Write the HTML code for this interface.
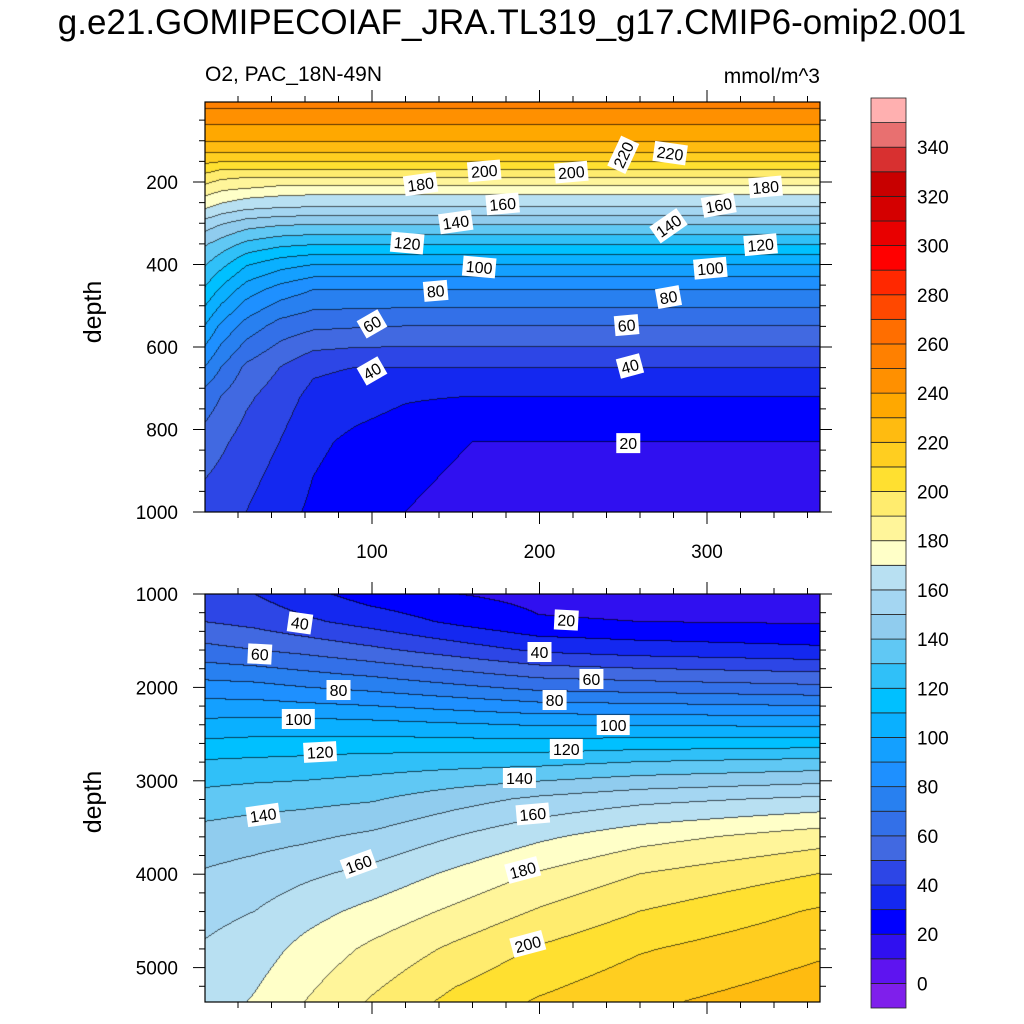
<!DOCTYPE html>
<html><head><meta charset="utf-8"><style>
body{margin:0;background:#fff;width:1024px;height:1024px;overflow:hidden;position:relative;font-family:"Liberation Sans",sans-serif}
canvas{position:absolute}
.t{position:absolute;color:#000;white-space:nowrap}
</style></head><body>
<div class="t" style="left:0;width:1024px;text-align:center;top:3px;font-size:35px">g.e21.GOMIPECOIAF_JRA.TL319_g17.CMIP6-omip2.001</div>
<div class="t" style="left:205px;top:63px;font-size:21px">O2, PAC_18N-49N</div>
<div class="t" style="left:650px;width:170px;text-align:right;top:65px;font-size:21px">mmol/m^3</div>
<canvas id="c1" width="615" height="410" style="left:205px;top:102px"></canvas>
<canvas id="c2" width="615" height="408" style="left:205px;top:594px"></canvas>
<svg id="ov" width="1024" height="1024" style="position:absolute;left:0;top:0"></svg>
<script>
// ---- data ----
const levelColors=["#7F1FEB","#5E14F0","#3010F0","#0000FF","#1428F0","#2D46E6","#4169E1","#3370E8","#2880F0","#1E90FF","#14A0FF","#0AB0FF","#00C0FF","#30C0F8","#60C8F4","#90CCEE","#A4D6F2","#B8E0F2","#FFFFC8","#FFF59A","#FFEC6E","#FFE030","#FFCE20","#FFBB10","#FFA800","#FF9000","#FF8000","#FF6E00","#FF4800","#FF2800","#FF0000","#E80000","#D40000","#C80000","#D83030","#E87070","#FFB0B0"];
const cbLabels=[0,20,40,60,80,100,120,140,160,180,200,220,240,260,280,300,320,340];
const topDays=[0,10,25,45,65,90,120,160,366];
const topDepths=[5,40,62,103,130,152,171,190,210,232,261,304,353,401,462,550,650,720,830,1000];
const topCol0=[251,249,240,230,220,212,204,196,189,181,172,155,141,131,119,100,80,66,56,45];
const topCol10=[251,249,240,230,220,210,200,192,184,177,167,150,135,123,108,88,70,60,52,43];
const topCol25=[251,249,240,230,220,210,200,190,183,173,163,144,127,111,95,76,58,52,46,40];
const topCol45=[251,249,240,230,220,210,200,190,180,171,161,141,122,104,86,66,50,45,40,34];
const topCol65=[251,249,240,230,220,210,200,190,180,170,160,140,120,100,80,62,42,37,32,28];
const topCol90=[251,249,240,230,220,210,200,190,180,170,160,140,120,100,80,61,40,34,28,24];
const topCol120=[251,249,240,230,220,210,200,190,180,170,160,140,120,100,80,60,40,31,25,20];
const topCol160=[251,249,240,230,220,210,200,190,180,170,160,140,120,100,80,60,40,30,20,15];
const topCol366=[251,249,240,230,220,210,200,190,180,170,160,140,120,100,80,60,40,30,20,15];
const botDays=[0,30,60,100,150,200,260,366];
const botDepths=[1000,1300,1600,2000,2400,2800,3200,3600,4000,4400,4800,5365];
const botCol0=[45,50,63,84,103,121,134,144,151,157,161,164];
const botCol30=[40,47,60,83,104,122,136,146,154,160,165,171];
const botCol60=[33,42,57,80,104,123,137,148,158,166,173,180];
const botCol100=[25,36,52,77,103,125,139,152,163,173,182,191];
const botCol150=[20,28,45,72,101,126,146,160,172,182,192,203];
const botCol200=[17,21,38,67,99,127,152,168,181,191,201,211];
const botCol260=[16,20,35,65,99,130,157,176,190,200,209,218];
const botCol366=[15,19,32,62,98,133,162,185,200,211,218,226];
const topLabelVals=[200,200,220,220,180,180,160,160,140,140,120,120,100,100,80,80,60,60,40,40,20];
const topLabelDays=[167,219,250,278,129,335,178,307,150,277,121,332,164,302,138,277,100,252,100,254,253];
const topLabelDepths=[173,176,134,130,205,212,253,256,297,306,348,352,406,409,464,479,544,547,658,646,833];
const topLabelRot=[-5,-5,-65,8,-8,-5,-5,-10,-8,-35,5,-5,5,-5,-5,-10,-30,-5,-30,-15,0];
const botLabelVals=[40,60,80,100,120,140,160,20,40,60,80,100,120,140,160,180,200];
const botLabelDays=[57,33,80,56,69,35,92,216,200,231,209,244,216,188,196,190,193];
const botLabelDepths=[1310,1642,2028,2338,2692,3366,3891,1278,1621,1910,2135,2403,2660,2970,3355,3955,4747];
const botLabelRot=[8,3,0,0,-3,-8,-20,3,0,0,0,0,0,0,-5,-15,-15];
// ---- scales ----
const xS=d=>204.5+d*1.675, xInv=X=>(X-204.5)/1.675;
const yTop=z=>99.5+z*0.4125, yTopInv=Y=>(Y-99.5)/0.4125;
const yBot=z=>594+(z-1000)*0.0934, yBotInv=Y=>1000+(Y-594)/0.0934;
function seg(arr,v){let i=0;while(i<arr.length-2&&v>arr[i+1])i++;let t=(v-arr[i])/(arr[i+1]-arr[i]);return [i,Math.max(0,Math.min(1,t))];}
function field(days,depths,cols,d,z){const [i,tx]=seg(days,d),[j,tz]=seg(depths,z);
 const a=cols[i][j]*(1-tz)+cols[i][j+1]*tz,b=cols[i+1][j]*(1-tz)+cols[i+1][j+1]*tz;return a*(1-tx)+b*tx;}
function hex(h){return [parseInt(h.substr(1,2),16),parseInt(h.substr(3,2),16),parseInt(h.substr(5,2),16)];}
const rgb=levelColors.map(hex);
function lvl(v){return Math.max(0,Math.min(36,Math.floor((v+10)/10)));}
function draw(id,L,T,days,depths,cols,yInv){const c=document.getElementById(id),ctx=c.getContext('2d'),W=c.width,H=c.height;
 const img=ctx.createImageData(W,H),idx=new Int16Array(W*H);
 for(let j=0;j<H;j++){const z=yInv(T+j+0.5);for(let i=0;i<W;i++){idx[j*W+i]=lvl(field(days,depths,cols,xInv(L+i+0.5),z));}}
 for(let j=0;j<H;j++)for(let i=0;i<W;i++){const k=j*W+i,l=idx[k];let col=rgb[l];
  const edge=(i<W-1&&idx[k+1]!==l)||(j<H-1&&idx[k+W]!==l);
  const p=k*4;if(edge){img.data[p]=col[0]*0.35;img.data[p+1]=col[1]*0.35;img.data[p+2]=col[2]*0.35;}else{img.data[p]=col[0];img.data[p+1]=col[1];img.data[p+2]=col[2];}img.data[p+3]=255;}
 ctx.putImageData(img,0,0);}
draw('c1',205,102,topDays,topDepths,[topCol0,topCol10,topCol25,topCol45,topCol65,topCol90,topCol120,topCol160,topCol366],yTopInv);
draw('c2',205,594,botDays,botDepths,[botCol0,botCol30,botCol60,botCol100,botCol150,botCol200,botCol260,botCol366],yBotInv);
// ---- overlay ----
const ov=document.getElementById('ov'),NS='http://www.w3.org/2000/svg';
function mk(tag,attrs){const e=document.createElementNS(NS,tag);for(const k in attrs)e.setAttribute(k,attrs[k]);ov.appendChild(e);return e;}
function labels(vals,days,deps,rots,yf,nm){for(let i=0;i<vals.length;i++){const x=xS(days[i]),y=yf(deps[i]);
 const g=mk('g',{transform:`translate(${x},${y}) rotate(${rots[i]})`});
 
 
 const w=String(vals[i]).length*9+6;
 const r=document.createElementNS(NS,'rect');r.setAttribute('x',-w/2);r.setAttribute('y',-10);r.setAttribute('width',w);r.setAttribute('height',20);r.setAttribute('fill','#fff');g.appendChild(r);
 const t=document.createElementNS(NS,'text');t.setAttribute('x',0);t.setAttribute('y',6);t.setAttribute('text-anchor','middle');t.setAttribute('font-size','16');t.setAttribute('font-family','Liberation Sans');t.textContent=vals[i];g.appendChild(t);}}
labels(topLabelVals,topLabelDays,topLabelDepths,topLabelRot,yTop,'upper-contour-label');
labels(botLabelVals,botLabelDays,botLabelDepths,botLabelRot,yBot,'lower-contour-label');
function frame(t,b,nm){const r=mk('rect',{x:205,y:t,width:615,height:b-t,fill:'none',stroke:'#000','stroke-width':1.2});
 
 }
frame(102,512,'upper-plot-frame');frame(594,1002,'lower-plot-frame');
function xticks(t,b){for(let d=20;d<=360;d+=20){const X=xS(d),maj=d%100===0,len=maj?12:6;
 mk('line',{x1:X,x2:X,y1:t,y2:t-len,stroke:'#000','stroke-width':1});mk('line',{x1:X,x2:X,y1:b,y2:b+len,stroke:'#000','stroke-width':1});}}
xticks(102,512);xticks(594,1002);
for(let z=50;z<=1000;z+=50){const Y=yTop(z),maj=z%200===0,len=maj?12:6;if(Y<102)continue;
 mk('line',{x1:205,x2:205-len,y1:Y,y2:Y,stroke:'#000'});mk('line',{x1:820,x2:820+len,y1:Y,y2:Y,stroke:'#000'});}
for(let z=1000;z<=5300;z+=200){const Y=yBot(z),maj=z%1000===0,len=maj?12:6;
 mk('line',{x1:205,x2:205-len,y1:Y,y2:Y,stroke:'#000'});mk('line',{x1:820,x2:820+len,y1:Y,y2:Y,stroke:'#000'});}
function txt(x,y,s,anchor,size,nm,rot){const t=mk('text',{x:x,y:y,'text-anchor':anchor,'font-size':size,'font-family':'Liberation Sans'});
 if(rot)t.setAttribute('transform',`rotate(${rot} ${x} ${y})`);
 
 
 t.textContent=s;}
[200,400,600,800,1000].forEach(z=>txt(178,yTop(z)+7,z,'end',19,'upper-y-tick-label'));
[1000,2000,3000,4000,5000].forEach(z=>txt(178,yBot(z)+7,z,'end',19,'lower-y-tick-label'));
[100,200,300].forEach(d=>txt(xS(d),558,d,'middle',19,'x-tick-label'));
txt(101,312,'depth','middle',25,'upper-y-axis-title',-90);
txt(101,802,'depth','middle',25,'lower-y-axis-title',-90);
// colorbar
const cbTop=98,cbBot=1008,bh=(cbBot-cbTop)/37;
for(let i=0;i<37;i++){const r=mk('rect',{x:871,y:cbBot-(i+1)*bh,width:35,height:bh,fill:levelColors[i],stroke:'#222','stroke-width':0.8});
 
 }
cbLabels.forEach(v=>txt(917,cbBot-(v+10)/10*bh+7,v,'start',19,'colorbar-label'));
</script>
</body></html>
